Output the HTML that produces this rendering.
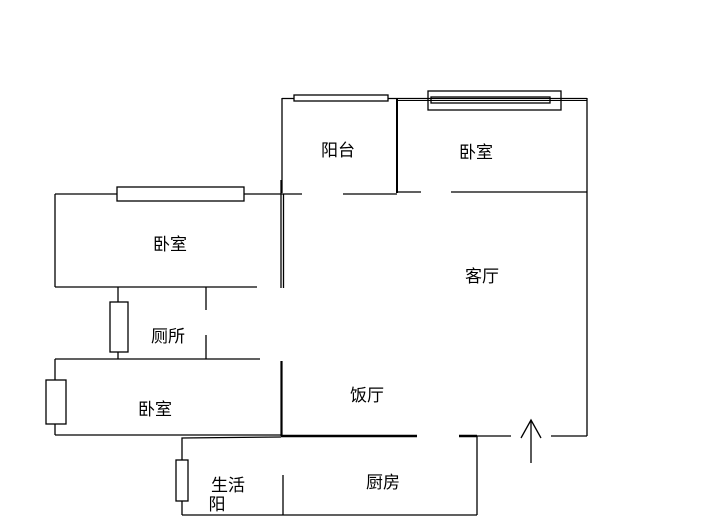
<!DOCTYPE html>
<html><head><meta charset="utf-8"><style>
html,body{margin:0;padding:0;background:#fff;}
svg{display:block;}
text{font-family:"Liberation Sans","Noto Sans CJK SC","WenQuanYi Zen Hei",sans-serif;font-size:17px;fill:#000;}
</style></head><body>
<svg width="707" height="530" viewBox="0 0 707 530" xmlns="http://www.w3.org/2000/svg">
<g stroke="#000" stroke-width="1.3" fill="none">
<!-- top -->
<line x1="282" y1="98.5" x2="587" y2="98.5"/>
<line x1="397" y1="100.5" x2="587" y2="100.5" stroke-width="1"/>
<line x1="282" y1="98" x2="282" y2="193"/>
<line x1="397" y1="98" x2="397" y2="193" stroke-width="2"/>
<line x1="587" y1="98" x2="587" y2="436"/>
<rect x="294" y="95" width="94" height="6" fill="#fff"/>
<rect x="428" y="91" width="133" height="19"/>
<rect x="431" y="97" width="119" height="6"/>
<line x1="55" y1="194" x2="302" y2="194"/>
<line x1="343" y1="194" x2="397" y2="194"/>
<line x1="397" y1="192" x2="421" y2="192"/>
<line x1="451" y1="192" x2="587" y2="192"/>
<!-- left double wall -->
<line x1="281" y1="180" x2="281" y2="288"/>
<line x1="283.5" y1="194" x2="283.5" y2="288"/>
<!-- upper left bedroom -->
<line x1="55" y1="194" x2="55" y2="287"/>
<rect x="117" y="187" width="127" height="14" fill="#fff"/>
<line x1="55" y1="287" x2="257" y2="287"/>
<!-- toilet -->
<line x1="118" y1="287" x2="118" y2="359"/>
<rect x="110" y="302" width="18" height="50" fill="#fff"/>
<line x1="206" y1="287" x2="206" y2="310"/>
<line x1="206" y1="335" x2="206" y2="359"/>
<line x1="55" y1="359" x2="260" y2="359"/>
<!-- lower bedroom -->
<line x1="55" y1="359" x2="55" y2="435"/>
<rect x="46" y="380" width="20" height="44" fill="#fff"/>
<line x1="55" y1="435" x2="281" y2="435"/>
<line x1="281.5" y1="361" x2="281.5" y2="436" stroke-width="2.2"/>
<!-- dining bottom -->
<line x1="281" y1="436" x2="417" y2="436" stroke-width="2.5"/>
<line x1="459" y1="436" x2="477" y2="436" stroke-width="2.5"/>
<line x1="477" y1="436" x2="511" y2="436"/>
<line x1="551" y1="436" x2="587" y2="436"/>
<!-- arrow -->
<line x1="531" y1="420" x2="531" y2="463"/>
<polyline points="521,438 531,420 541,438"/>
<!-- kitchen -->
<polyline points="182,515 182,438 281,437"/>
<line x1="477" y1="436" x2="477" y2="515"/>
<line x1="182" y1="515" x2="477" y2="515"/>
<line x1="283" y1="475" x2="283" y2="515"/>
<rect x="176" y="460" width="12" height="41" fill="#fff"/>
</g>
<g text-anchor="middle">
<text x="338" y="156">阳台</text>
<text x="476" y="158">卧室</text>
<text x="170" y="250">卧室</text>
<text x="482" y="282">客厅</text>
<text x="168" y="342">厕所</text>
<text x="155" y="415">卧室</text>
<text x="367" y="401">饭厅</text>
<text x="383" y="488">厨房</text>
<text x="228" y="491">生活</text>
<text x="217" y="510">阳</text>
</g>
</svg>
</body></html>
